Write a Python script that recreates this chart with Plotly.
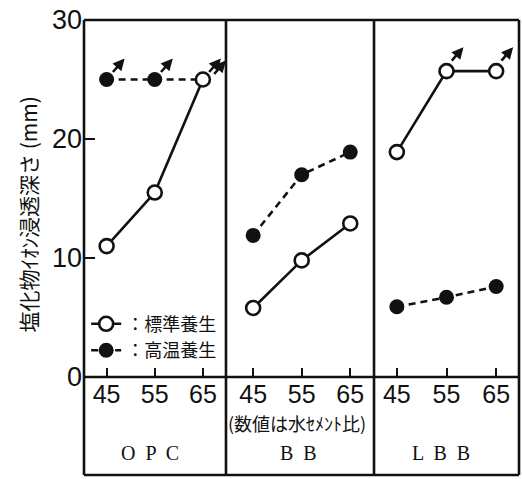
import plotly.graph_objects as go

# Water-cement ratio (%) and chloride penetration depth (mm) per cement type
wc_ratio = [45, 55, 65]
panels = ["OPC", "BB", "LBB"]
panel_labels = ["O  P  C", "B  B", "L  B  B"]

standard_cure = {            # 標準養生 (open circles, solid line)
    "OPC": [11.0, 15.5, 25.0],
    "BB": [5.8, 9.8, 12.9],
    "LBB": [18.9, 25.7, 25.7],
}
high_temp_cure = {           # 高温養生 (filled circles, dashed line)
    "OPC": [25.0, 25.0, 25.0],
    "BB": [11.9, 17.0, 18.9],
    "LBB": [5.9, 6.7, 7.6],
}
# points where the specimen was fully penetrated (drawn with an up arrow)
beyond_std = {"OPC": [65], "BB": [], "LBB": [55, 65]}
beyond_hot = {"OPC": [45, 55, 65], "BB": [], "LBB": []}

y_ticks = [0, 10, 20, 30]

INK = "#111111"
NUM_FONT = "Liberation Sans Narrow, Arial Narrow, Liberation Sans, Arial, sans-serif"
JP_FONT = "Noto Sans CJK JP, sans-serif"
SERIF = "Liberation Serif, DejaVu Serif, serif"

domains = [[0.0, 0.3264], [0.3264, 0.6667], [0.6667, 1.0]]
ranges = [[40.3, 69.8], [39.4, 69.9], [40.4, 69.6]]

fig = go.Figure()

for i, p in enumerate(panels):
    xa = "x" if i == 0 else f"x{i + 1}"
    fig.add_trace(go.Scatter(
        x=wc_ratio, y=high_temp_cure[p], xaxis=xa, yaxis="y",
        mode="lines+markers", name="：高温養生", legendrank=2,
        showlegend=(i == 0),
        line=dict(color=INK, width=2.6, dash="7px,5px"),
        marker=dict(symbol="circle", size=15, color=INK),
    ))
    fig.add_trace(go.Scatter(
        x=wc_ratio, y=standard_cure[p], xaxis=xa, yaxis="y",
        mode="lines+markers", name="：標準養生", legendrank=1,
        showlegend=(i == 0),
        line=dict(color=INK, width=2.6),
        marker=dict(symbol="circle", size=14, color="white",
                    line=dict(color=INK, width=2.6)),
    ))

# axes
layout_axes = {}
for i in range(3):
    key = "xaxis" if i == 0 else f"xaxis{i + 1}"
    layout_axes[key] = dict(
        domain=domains[i], range=ranges[i], anchor="y",
        tickmode="array", tickvals=wc_ratio, ticktext=[str(v) for v in wc_ratio],
        ticks="inside", ticklen=9, tickwidth=2, tickcolor=INK,
        showgrid=False, zeroline=False, showline=False,
        tickfont=dict(family=NUM_FONT, size=25, color=INK),
        ticklabelstandoff=0,
    )
fig.update_layout(**layout_axes)
fig.update_layout(yaxis=dict(
    domain=[0, 1], range=[0, 30], anchor="x",
    tickmode="array", tickvals=y_ticks,
    ticks="inside", ticklen=11, tickwidth=2, tickcolor=INK,
    showgrid=False, zeroline=False, showline=False,
    tickfont=dict(family=NUM_FONT, size=27, color=INK),
    ticklabelstandoff=1,
))

# frame: outer box including the category strip, panel dividers, baseline
lw = 2.6
bottom = -0.2745
shapes = [
    dict(type="line", xref="paper", yref="paper", x0=0, x1=1, y0=1, y1=1),
    dict(type="line", xref="paper", yref="paper", x0=0, x1=1, y0=0, y1=0),
    dict(type="line", xref="paper", yref="paper", x0=0, x1=1, y0=bottom, y1=bottom),
    dict(type="line", xref="paper", yref="paper", x0=0, x1=0, y0=bottom, y1=1),
    dict(type="line", xref="paper", yref="paper", x0=1, x1=1, y0=bottom, y1=1),
    dict(type="line", xref="paper", yref="paper", x0=domains[1][0], x1=domains[1][0], y0=bottom, y1=1),
    dict(type="line", xref="paper", yref="paper", x0=domains[2][0], x1=domains[2][0], y0=bottom, y1=1),
]
for s in shapes:
    s["line"] = dict(color=INK, width=lw)
    s["layer"] = "above"
fig.update_layout(shapes=shapes)

annotations = []

# arrows marking penetration beyond the measured depth
def add_arrows(series, marks, dx, dy):
    for i, p in enumerate(panels):
        xr = "x" if i == 0 else f"x{i + 1}"
        for w in marks[p]:
            yv = series[p][wc_ratio.index(w)]
            annotations.append(dict(
                x=w, y=yv, xref=xr, yref="y", text="",
                showarrow=True, arrowhead=2, arrowsize=0.9, arrowwidth=2.6,
                arrowcolor=INK, ax=-13, ay=15, axref="pixel", ayref="pixel",
                xshift=dx, yshift=dy,
            ))

add_arrows(high_temp_cure, beyond_hot, 18, 21)
add_arrows(standard_cure, {"OPC": [], "BB": [], "LBB": beyond_std["LBB"]}, 17, 24)
add_arrows(standard_cure, {"OPC": beyond_std["OPC"], "BB": [], "LBB": []}, 23, 19)

# y-axis title
annotations.append(dict(
    x=-0.129, y=0.455, xref="paper", yref="paper",
    xanchor="center", yanchor="middle",
    text="塩化物ｲｵﾝ浸透深さ (mm)", textangle=-90, showarrow=False,
    font=dict(family=JP_FONT, size=21, color=INK),
))
# note on the numbers
annotations.append(dict(
    x=0.49, y=-0.13, xref="paper", yref="paper",
    xanchor="center", yanchor="middle",
    text="(数値は水ｾﾒﾝﾄ比)", showarrow=False,
    font=dict(family=JP_FONT, size=18, color=INK),
))
# cement type labels
centers = [0.152, 0.492, 0.821]
for c, lab in zip(centers, panel_labels):
    annotations.append(dict(
        x=c, y=-0.214, xref="paper", yref="paper", text=lab, showarrow=False,
        xanchor="center", yanchor="middle",
        font=dict(family=SERIF, size=20, color=INK),
    ))
fig.update_layout(annotations=annotations)

fig.update_layout(
    width=522, height=479,
    margin=dict(l=84, r=3, t=20, b=102),
    paper_bgcolor="white", plot_bgcolor="white",
    showlegend=True,
    legend=dict(
        x=0.005, y=0.20, xanchor="left", yanchor="top",
        bgcolor="rgba(0,0,0,0)", borderwidth=0,
        font=dict(family=JP_FONT, size=18, color=INK),
        tracegroupgap=2, itemwidth=30,
    ),
)

fig.write_html("out.html")
